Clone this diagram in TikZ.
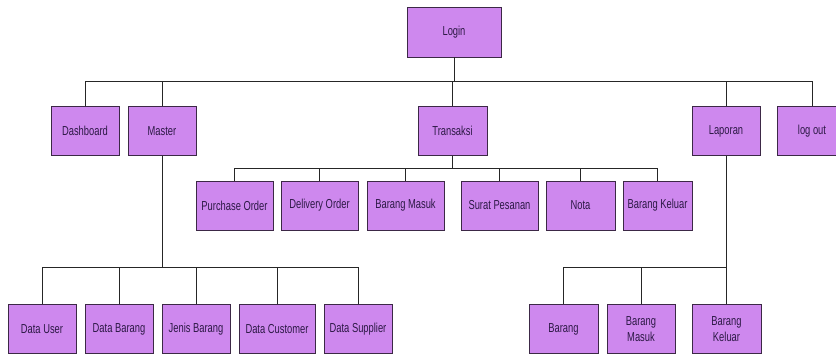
\documentclass[tikz,border=0pt]{standalone}
\usepackage{fontspec}
\setmainfont{Liberation Sans}[FakeStretch=0.72]
\definecolor{boxfill}{RGB}{206,136,238}
\definecolor{boxline}{RGB}{60,40,70}
\definecolor{boxtext}{RGB}{45,25,70}
\tikzset{
  menubox/.style={draw=boxline, line width=0.9pt, fill=boxfill, text=boxtext,
    minimum height=49pt, minimum width=68pt, inner sep=2pt, align=center,
    font=\fontsize{13}{16.5}\selectfont},
  wire/.style={draw=black!85, line width=0.8pt}
}
\begin{document}
\begin{tikzpicture}[x=1pt,y=-1pt]
\useasboundingbox (0,0) rectangle (836,354);
\clip (0,0) rectangle (836,354);
\fill[white] (0,0) rectangle (836,354);
% top
\node[menubox, minimum width=94pt, minimum height=50pt] (login) at (454,32) {Login};
% row 1
\node[menubox] (dash) at (85,131) {Dashboard};
\node[menubox] (master) at (162,131) {Master};
\node[menubox, minimum width=69pt] (trans) at (452.5,131) {Transaksi};
\node[menubox] (lap) at (726,131) {Laporan};
\node[menubox, minimum width=70pt] (logout) at (812,131) {log out};
% row 2
\node[menubox, minimum width=77pt] (po) at (234.5,205.5) {Purchase Order};
\node[menubox, minimum width=77pt] (do) at (319.5,205.5) {Delivery Order};
\node[menubox, minimum width=77pt] (bm) at (405.5,205.5) {Barang Masuk};
\node[menubox, minimum width=77pt] (sp) at (499.5,205.5) {Surat Pesanan};
\node[menubox, minimum width=69pt] (nota) at (580.5,205.5) {Nota};
\node[menubox, minimum width=69pt] (bk) at (657.5,205.5) {Barang Keluar};
% row 3 master
\node[menubox] (du) at (42,329) {Data User};
\node[menubox] (db) at (119,329) {Data Barang};
\node[menubox] (jb) at (196,329) {Jenis Barang};
\node[menubox, minimum width=76pt] (dc) at (277,329) {Data Customer};
\node[menubox] (ds) at (358,329) {Data Supplier};
% row 3 laporan
\node[menubox, minimum width=69pt] (lb) at (563.5,329) {Barang};
\node[menubox] (lbm) at (641,329) {Barang\\Masuk};
\node[menubox, minimum width=69pt] (lbk) at (726.5,329) {Barang\\Keluar};
% buses
\coordinate (bus1) at (0,81);
\coordinate (bus2) at (0,168);
\coordinate (bus3) at (0,267);
% login to row 1
\draw[wire] (login.south) -- (login.south |- bus1);
\draw[wire] (dash.north |- bus1) -- (logout.north |- bus1);
\foreach \n in {dash,master,trans,lap,logout}
  \draw[wire] (\n.north) -- (\n.north |- bus1);
% transaksi children
\draw[wire] (trans.south) -- (trans.south |- bus2);
\draw[wire] (po.north |- bus2) -- (bk.north |- bus2);
\foreach \n in {po,do,bm,sp,nota,bk}
  \draw[wire] (\n.north) -- (\n.north |- bus2);
% master children
\draw[wire] (master.south) -- (master.south |- bus3);
\draw[wire] (du.north |- bus3) -- (ds.north |- bus3);
\foreach \n in {du,db,jb,dc,ds}
  \draw[wire] (\n.north) -- (\n.north |- bus3);
% laporan children
\draw[wire] (lap.south) -- (lap.south |- bus3);
\draw[wire] (lb.north |- bus3) -- (lbk.north |- bus3);
\foreach \n in {lb,lbm,lbk}
  \draw[wire] (\n.north) -- (\n.north |- bus3);
\end{tikzpicture}
\end{document}
